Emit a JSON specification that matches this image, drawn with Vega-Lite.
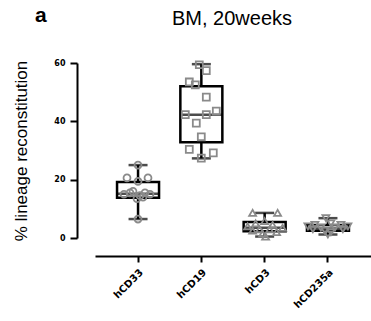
{
  "$schema": "https://vega.github.io/schema/vega-lite/v6.json",
  "width": 276,
  "height": 175,
  "autosize": {"type": "none"},
  "padding": {"left": 95, "top": 63, "right": 0, "bottom": 83},
  "background": "white",
  "config": {
    "view": {"stroke": null},
    "axis": {"grid": false}
  },
  "datasets": {
    "summary": [
      {"lineage": "hCD33", "min": 6.5, "q1": 13.8, "median": 15.2, "q3": 19.2, "max": 25},
      {"lineage": "hCD19", "min": 27.3, "q1": 32.8, "median": 42.3, "q3": 52, "max": 59.6},
      {"lineage": "hCD3", "min": 0.5, "q1": 2.3, "median": 3.5, "q3": 5.5, "max": 8.6},
      {"lineage": "hCD235a", "min": 1.2, "q1": 2.5, "median": 3.3, "q3": 4.5, "max": 6.8}
    ],
    "points": [
      {"lineage": "hCD33", "value": 25, "j": 0},
      {"lineage": "hCD33", "value": 20.6, "j": -0.55},
      {"lineage": "hCD33", "value": 19.4, "j": 0},
      {"lineage": "hCD33", "value": 20.6, "j": 0.5},
      {"lineage": "hCD33", "value": 15.5, "j": -0.4},
      {"lineage": "hCD33", "value": 16, "j": -0.25},
      {"lineage": "hCD33", "value": 15, "j": -0.7},
      {"lineage": "hCD33", "value": 14.5, "j": 0.1},
      {"lineage": "hCD33", "value": 15.5, "j": 0.35},
      {"lineage": "hCD33", "value": 15, "j": 0.6},
      {"lineage": "hCD33", "value": 13.5, "j": -0.05},
      {"lineage": "hCD33", "value": 14, "j": 0.25},
      {"lineage": "hCD33", "value": 6.5, "j": 0},
      {"lineage": "hCD19", "value": 59.4, "j": -0.1},
      {"lineage": "hCD19", "value": 57.4, "j": 0.25},
      {"lineage": "hCD19", "value": 53.5, "j": -0.6},
      {"lineage": "hCD19", "value": 52.5, "j": -0.3},
      {"lineage": "hCD19", "value": 48.3, "j": 0.25},
      {"lineage": "hCD19", "value": 42.3, "j": -0.8},
      {"lineage": "hCD19", "value": 42.3, "j": 0.25},
      {"lineage": "hCD19", "value": 43.5, "j": 0.75},
      {"lineage": "hCD19", "value": 39.4, "j": -0.25},
      {"lineage": "hCD19", "value": 34.7, "j": 0},
      {"lineage": "hCD19", "value": 30.4, "j": -0.6},
      {"lineage": "hCD19", "value": 27.4, "j": 0},
      {"lineage": "hCD19", "value": 29.2, "j": 0.6},
      {"lineage": "hCD3", "value": 8.6, "j": -0.6},
      {"lineage": "hCD3", "value": 8.6, "j": 0.65},
      {"lineage": "hCD3", "value": 5.8, "j": 0},
      {"lineage": "hCD3", "value": 5, "j": -0.45},
      {"lineage": "hCD3", "value": 4.5, "j": 0.4},
      {"lineage": "hCD3", "value": 4, "j": -0.85},
      {"lineage": "hCD3", "value": 3.5, "j": 0.9},
      {"lineage": "hCD3", "value": 3, "j": -0.25},
      {"lineage": "hCD3", "value": 3, "j": 0.25},
      {"lineage": "hCD3", "value": 2.5, "j": -0.6},
      {"lineage": "hCD3", "value": 2, "j": 0.6},
      {"lineage": "hCD3", "value": 1.5, "j": -0.1},
      {"lineage": "hCD3", "value": 0.5, "j": 0.05},
      {"lineage": "hCD235a", "value": 6.8, "j": -0.1},
      {"lineage": "hCD235a", "value": 5, "j": 0.15},
      {"lineage": "hCD235a", "value": 4.5, "j": -0.65},
      {"lineage": "hCD235a", "value": 4.5, "j": 0.65},
      {"lineage": "hCD235a", "value": 4, "j": -1},
      {"lineage": "hCD235a", "value": 4, "j": 1},
      {"lineage": "hCD235a", "value": 3.5, "j": -0.35},
      {"lineage": "hCD235a", "value": 3.5, "j": 0.35},
      {"lineage": "hCD235a", "value": 3, "j": -0.75},
      {"lineage": "hCD235a", "value": 3, "j": 0.75},
      {"lineage": "hCD235a", "value": 2.5, "j": -0.15},
      {"lineage": "hCD235a", "value": 2, "j": 0.15},
      {"lineage": "hCD235a", "value": 1.2, "j": 0}
    ],
    "panel": [{"letter": "a"}],
    "heading": [{"label": "BM, 20weeks"}]
  },
  "encoding": {
    "x": {
      "field": "lineage",
      "type": "nominal",
      "sort": ["hCD33", "hCD19", "hCD3", "hCD235a"],
      "scale": {"domain": ["hCD33", "hCD19", "hCD3", "hCD235a"], "paddingInner": 0, "paddingOuter": 0.18},
      "axis": {
        "title": null,
        "offset": 18,
        "domainColor": "black",
        "domainWidth": 2,
        "tickColor": "black",
        "tickWidth": 2,
        "tickSize": 6,
        "labelAngle": -45,
        "labelFont": "DejaVu Sans",
        "labelFontWeight": "bold",
        "labelFontSize": 10,
        "labelColor": "black",
        "labelPadding": 5
      }
    }
  },
  "layer": [
    {
      "data": {"name": "summary"},
      "mark": {"type": "rule", "color": "black", "strokeWidth": 2.5},
      "encoding": {
        "y": {
          "field": "min",
          "type": "quantitative",
          "scale": {"domain": [0, 60], "nice": false, "zero": false},
          "axis": {
            "title": "% lineage reconstitution",
            "titleFont": "Liberation Sans",
            "titleFontSize": 17,
            "titleFontWeight": "normal",
            "titleColor": "black",
            "titlePadding": 23,
            "values": [0, 20, 40, 60],
            "offset": 18,
            "domainColor": "black",
            "domainWidth": 2,
            "tickColor": "black",
            "tickWidth": 2,
            "tickSize": 7,
            "labelFont": "DejaVu Sans",
            "labelFontWeight": "bold",
            "labelFontSize": 8,
            "labelColor": "black",
            "labelPadding": 5
          }
        },
        "y2": {"field": "max"}
      }
    },
    {
      "data": {"name": "summary"},
      "mark": {"type": "bar", "width": 42, "fill": "white", "stroke": "black", "strokeWidth": 2.5},
      "encoding": {
        "y": {"field": "q1", "type": "quantitative"},
        "y2": {"field": "q3"}
      }
    },
    {
      "data": {"name": "summary"},
      "mark": {"type": "tick", "color": "black", "size": 42, "thickness": 2.5},
      "encoding": {"y": {"field": "median", "type": "quantitative"}}
    },
    {
      "data": {"name": "summary"},
      "mark": {"type": "tick", "color": "black", "size": 19, "thickness": 2.5},
      "encoding": {"y": {"field": "min", "type": "quantitative"}}
    },
    {
      "data": {"name": "summary"},
      "mark": {"type": "tick", "color": "black", "size": 19, "thickness": 2.5},
      "encoding": {"y": {"field": "max", "type": "quantitative"}}
    },
    {
      "data": {"name": "points"},
      "mark": {"type": "point", "filled": false, "color": "#8a8a8a", "strokeWidth": 1.8, "size": 48, "opacity": 1},
      "encoding": {
        "y": {"field": "value", "type": "quantitative"},
        "xOffset": {"field": "j", "type": "quantitative", "scale": {"domain": [-1, 1], "range": [11.6, 51.6]}},
        "shape": {
          "field": "lineage",
          "type": "nominal",
          "scale": {"domain": ["hCD33", "hCD19", "hCD3", "hCD235a"], "range": ["circle", "square", "triangle-up", "triangle-down"]},
          "legend": null
        }
      }
    },
    {
      "data": {"name": "panel"},
      "mark": {"type": "text", "font": "Liberation Sans", "fontWeight": "bold", "fontSize": 21, "align": "left", "baseline": "alphabetic", "color": "black"},
      "encoding": {
        "x": {"value": -60},
        "y": {"value": -41},
        "text": {"field": "letter"}
      }
    },
    {
      "data": {"name": "heading"},
      "mark": {"type": "text", "font": "Liberation Sans", "fontWeight": "normal", "fontSize": 20, "align": "center", "baseline": "alphabetic", "color": "black"},
      "encoding": {
        "x": {"value": 137},
        "y": {"value": -38},
        "text": {"field": "label"}
      }
    }
  ]
}
